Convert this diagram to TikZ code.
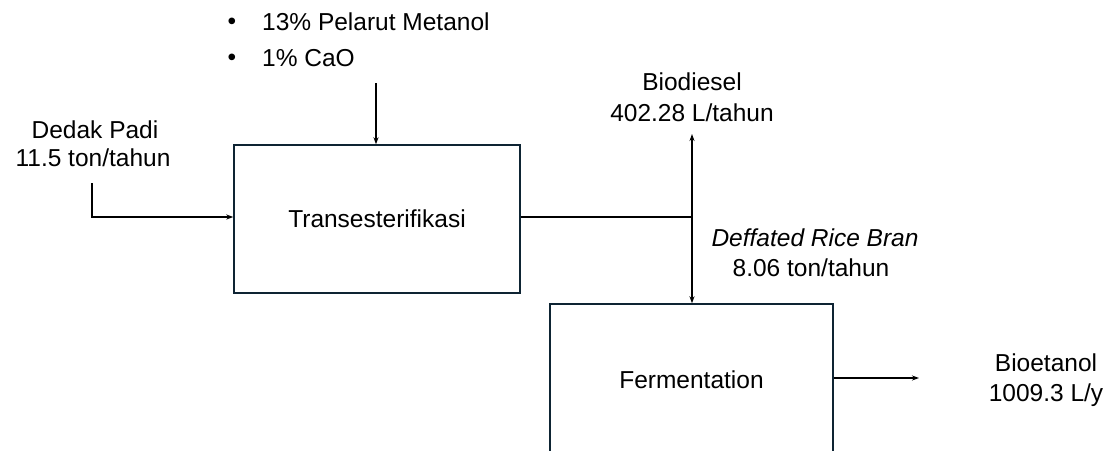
\documentclass[tikz,border=0pt]{standalone}
\usepackage{fontspec}
\setmainfont{Liberation Sans}
\usetikzlibrary{arrows.meta}
\begin{document}
\begin{tikzpicture}[x=1pt,y=-1pt,
  every node/.style={font=\fontsize{24.5}{29}\selectfont, inner sep=0pt},
  procbox/.style={draw=boxblue, line width=1.4pt, minimum width=#1},
  flow/.style={draw=black, line width=1.3pt},
  arr/.style={flow, -{Stealth[length=7pt,width=5pt]}}]
\definecolor{boxblue}{HTML}{0E2433}
\useasboundingbox (0,0) rectangle (1107,450);
\clip (0,0) rectangle (1107,450);
% bullet list
\node (b1) at (232,24) {•};
\node[anchor=west] (t1) at (262,22) {13\% Pelarut Metanol};
\node (b2) at (232,60) {•};
\node[anchor=west] (t2) at (262,58) {1\% CaO};
\coordinate (inTop) at (376,83);
% process boxes
\node[procbox=286pt, minimum height=148pt] (trans) at (377,219) {Transesterifikasi};
\node[procbox=283pt, minimum height=152pt] (ferm) at (691.5,380) {Fermentation};
% feed
\node (dedak1) at (95,130) {Dedak Padi};
\node (dedak2) at (93,158) {11.5 ton/tahun};
\coordinate (dStart) at (92,183);
\draw[arr] (dStart) |- (trans.west |- 0,217);
\draw[arr] (inTop) -- (trans.north -| inTop);
% split
\coordinate (split) at (692,217);
\coordinate (bioUp) at (692,134);
\draw[flow] (trans.east |- split) -- (split);
\draw[arr] (split) -- (bioUp);
\draw[arr] (split) -- (ferm.north -| split);
\node (bd1) at (692,82) {Biodiesel};
\node (bd2) at (692,113) {402.28 L/tahun};
\node (dr1) at (815,238) {\itshape Deffated Rice Bran};
\node (dr2) at (811,268) {8.06 ton/tahun};
% bioethanol
\coordinate (bioOut) at (919,378);
\draw[arr] (ferm.east |- bioOut) -- (bioOut);
\node (be1) at (1046,363) {Bioetanol};
\node (be2) at (1046,395) {1009.3 L/y};
\end{tikzpicture}
\end{document}
